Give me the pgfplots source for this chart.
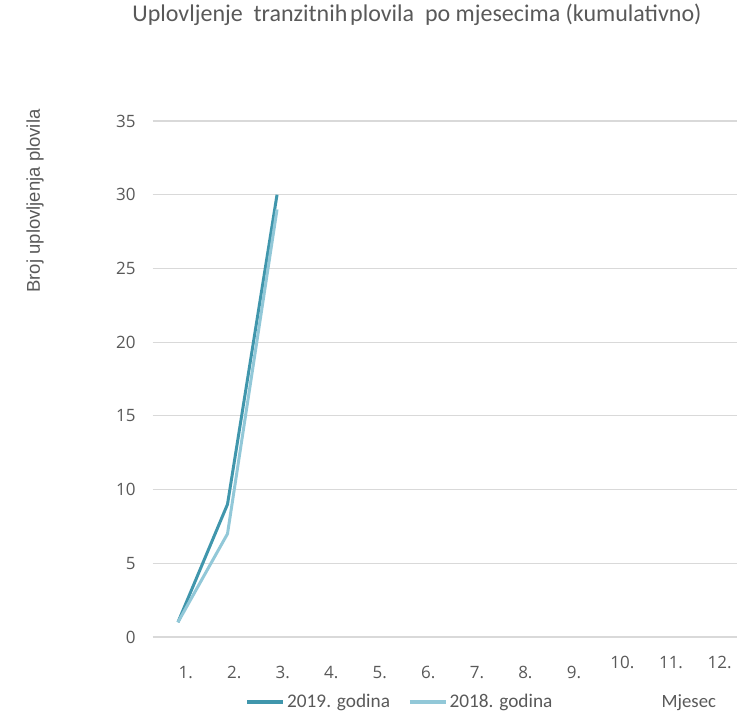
\documentclass[border=0pt]{standalone}
\usepackage{pgfplots}
\pgfplotsset{compat=1.18}
\usepackage{fontspec}
\setmainfont{Carlito}
\newfontfamily\tickfont{Open Sans}
\newfontfamily\labfont{Liberation Sans}
\definecolor{c19}{RGB}{64,150,172}
\definecolor{c18}{RGB}{146,200,216}
\definecolor{txt}{RGB}{89,89,89}
\definecolor{grd}{RGB}{217,217,217}
\begin{document}
\begin{tikzpicture}[x=1pt,y=1pt]
\useasboundingbox (0,0) rectangle (753,712);
\begin{axis}[
  at={(152.7pt,75pt)}, anchor=south west,
  scale only axis, width=584pt, height=516pt,
  xmin=0.49, xmax=12.28, ymin=0, ymax=35,
  axis line style={draw=none},
  tick style={draw=none},
  ymajorgrids, major grid style={grd, line width=1.2pt},
  ytick={0,5,...,35},
  xtick={1.156,2.136,3.116,4.095,5.075,6.055,7.035,8.014,8.994},
  xticklabels={1.,2.,3.,4.,5.,6.,7.,8.,9.},
  extra x ticks={9.974,10.954,11.934},
  extra x tick labels={10.,11.,12.},
  extra x tick style={grid=none, tick label style={yshift=10pt}},
  x tick label style={font=\tickfont\fontsize{17}{20}\selectfont, text=txt, yshift=-26pt},
  y tick label style={font=\tickfont\fontsize{17}{20}\selectfont, text=txt, xshift=-13.5pt},
  /pgf/number format/assume math mode=true,
  title={Uplovljenje\ \ tranzitnih\hspace{0.12em}plovila\ \ po mjesecima (kumulativno)},
  title style={at={(axis description cs:0.4526,1.1816)}, anchor=base, font=\fontsize{24}{28}\selectfont, text=txt},
  ylabel={Broj uplovljenja plovila},
  ylabel style={at={(axis description cs:-0.2015,0.845)}, anchor=center, font=\labfont\fontsize{18.5}{22}\selectfont, text=txt},
  xlabel={Mjesec},
  xlabel style={at={(axis description cs:0.918,-0.1357)}, anchor=base, font=\fontsize{18.7}{22}\selectfont, text=txt},
  legend style={at={(axis description cs:0.4235,-0.126)}, anchor=center, draw=none, fill=none,
    legend columns=2, font=\fontsize{19.3}{22}\selectfont, text=txt,
    /tikz/every even column/.append style={column sep=16pt},
    legend cell align=left, inner sep=0pt},
  legend image code/.code={\draw[#1, line width=3.5pt] (0pt,0pt) -- (36pt,0pt);},
]
\addplot[c19, line width=3pt, line join=round] coordinates {(1,1) (2,9) (3,30)};
\addlegendentry{2019. godina}
\addplot[c18, line width=3pt, line join=round] coordinates {(1,1) (2,7) (3,29)};
\addlegendentry{2018. godina}
\end{axis}
\end{tikzpicture}
\end{document}
